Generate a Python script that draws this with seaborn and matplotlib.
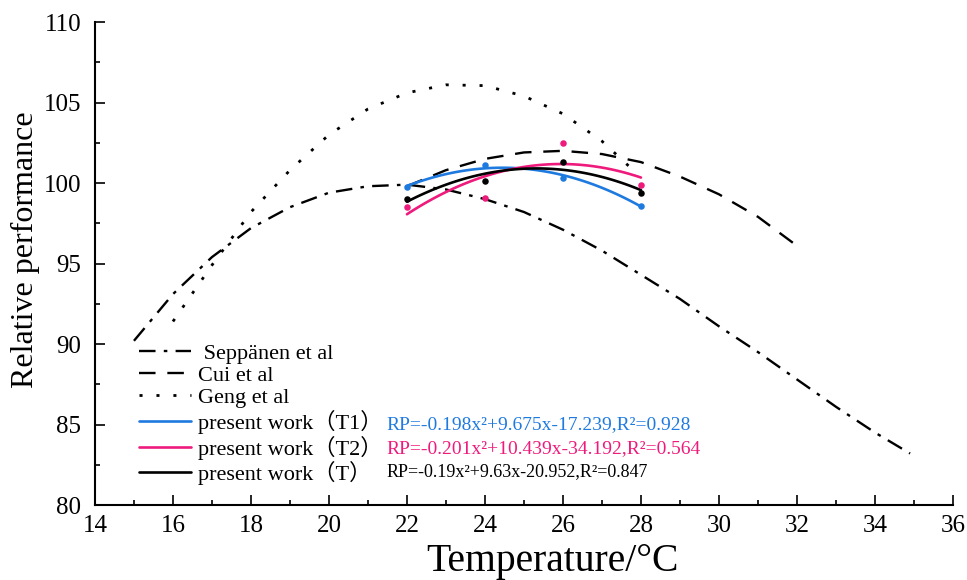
import numpy as np
import pandas as pd
import matplotlib
matplotlib.use("Agg")
import matplotlib.pyplot as plt
from matplotlib.ticker import MultipleLocator
import seaborn as sns

# ---- data ----
sep_T = [15, 16, 17, 18, 19, 20, 21, 22, 23, 24, 25, 26, 27, 28, 29, 30, 31, 32, 33, 34, 34.9]
sep_RP = [90.2, 93.1, 95.4, 97.2, 98.5, 99.4, 99.8, 99.9, 99.6, 99.0, 98.2, 97.1, 95.8, 94.3,
          92.8, 91.1, 89.5, 87.8, 86.1, 84.5, 83.2]

cui_T = [22, 23, 24, 25, 26, 27, 28, 29, 30, 31, 32]
cui_RP = [99.8, 100.8, 101.5, 101.9, 102.0, 101.8, 101.3, 100.4, 99.3, 97.9, 96.1]

geng_T = [16, 17, 18, 19, 20, 21, 22, 23, 24, 25, 26, 27, 27.8]
geng_RP = [91.4, 94.9, 98.2, 100.8, 103.0, 104.6, 105.6, 106.1, 106.05, 105.4, 104.3, 102.6, 100.8]

pw_T = [22, 24, 26, 28]
pw_T1 = [99.75, 101.1, 100.3, 98.6]
pw_T2 = [98.5, 99.1, 102.5, 99.9]
pw_T0 = [99.0, 100.1, 101.3, 99.4]

labels = [" Seppänen et al", "Cui et al", "Geng et al",
          "present work（T1）", "present work（T2）", "present work（T）"]
equations = ["RP=-0.198x²+9.675x-17.239,R²=0.928",
             "RP=-0.201x²+10.439x-34.192,R²=0.564",
             "RP=-0.19x²+9.63x-20.952,R²=0.847"]

blue = "#1f7ae0"
pink = "#ee1a7c"
black = "#000000"

sns.set_style("ticks")
plt.rcParams["font.family"] = ["Liberation Serif", "Noto Sans CJK SC", "DejaVu Sans"]
plt.rcParams["mathtext.fontset"] = "stix"
for k in ["text.color", "axes.labelcolor", "xtick.color", "ytick.color", "axes.edgecolor"]:
    plt.rcParams[k] = "black"

fig = plt.figure(figsize=(9.67, 5.80), dpi=100)
ax = fig.add_axes([0.0982, 0.1293, 0.8873, 0.8327])

lw_ref = 1.7
sns.lineplot(x=sep_T, y=sep_RP, ax=ax, color=black, linewidth=lw_ref,
             linestyle=(0, (7, 3.5, 1.5, 3.5)), label=labels[0])
sns.lineplot(x=cui_T, y=cui_RP, ax=ax, color=black, linewidth=lw_ref,
             linestyle=(0, (7, 5)), label=labels[1])
sns.lineplot(x=geng_T, y=geng_RP, ax=ax, color=black, linewidth=2.0,
             linestyle=(0, (1.1, 5)), label=labels[2])

for ys, col, lab in [(pw_T1, blue, labels[3]), (pw_T2, pink, labels[4]), (pw_T0, black, labels[5])]:
    sns.regplot(x=pw_T, y=ys, ax=ax, order=2, ci=None, truncate=True,
                scatter_kws={"s": 22, "color": col, "linewidths": 0, "zorder": 4, "alpha": 1},
                line_kws={"color": col, "linewidth": 1.9, "label": lab})

ax.set_xlim(14, 36)
ax.set_ylim(80, 110)
ax.xaxis.set_major_locator(MultipleLocator(2))
ax.xaxis.set_minor_locator(MultipleLocator(1))
ax.yaxis.set_major_locator(MultipleLocator(5))
ax.yaxis.set_minor_locator(MultipleLocator(2.5))
ax.tick_params(which="major", direction="in", length=7.5, width=1.2, labelsize=18)
ax.tick_params(axis="y", which="major", pad=10)
ax.tick_params(axis="x", which="major", pad=7)
ax.tick_params(which="minor", direction="in", length=3.5, width=1.2)
for s in ["top", "right"]:
    ax.spines[s].set_visible(False)
for s in ["left", "bottom"]:
    ax.spines[s].set_linewidth(1.5)

ax.set_xlabel("Temperature/°C", fontsize=28.5)
ax.set_ylabel("Relative performance", fontsize=23)
ax.xaxis.set_label_coords(0.533, -0.078)
ax.yaxis.set_label_coords(-0.064, 0.528)

handles, labs = ax.get_legend_handles_labels()
leg = ax.legend(handles, labs, loc="upper left", bbox_to_anchor=(0.051, 0.335),
                frameon=False, fontsize=16, handlelength=2.35, handletextpad=0.3,
                labelspacing=0.075, borderpad=0, borderaxespad=0)

eq_y = [0.166, 0.116, 0.0685]
for txt, col, yy, fs in zip(equations, [blue, pink, black], eq_y, [14, 14, 13]):
    ax.text(0.340, yy, txt, transform=ax.transAxes, color=col, fontsize=fs,
            va="center", ha="left")

fig.savefig("out.png", dpi=100)
